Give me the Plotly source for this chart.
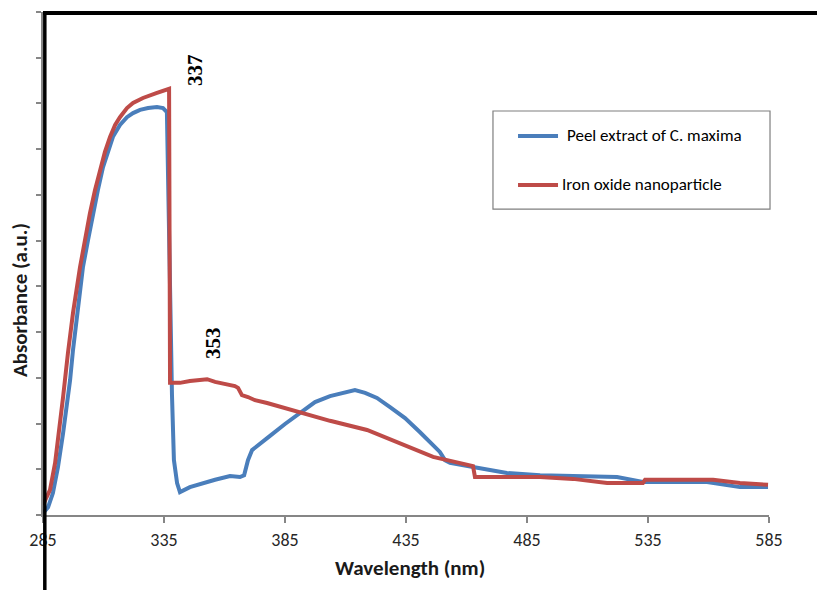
import plotly.graph_objects as go

# UV-Vis absorbance spectra
peel_wavelength = [285.0, 287.1, 289.1, 291.2, 293.3, 294.9, 296.2, 297.4, 299.0, 300.3,
                   301.5, 303.6, 305.7, 307.7, 309.8, 311.9, 313.9, 316.8, 319.7, 322.2,
                   325.1, 328.4, 332.1, 334.6, 336.2, 338.3, 339.1, 340.4, 341.6, 345.7,
                   349.9, 356.1, 362.3, 366.4, 368.1, 369.7, 371.4, 374.7, 378.8, 385.0,
                   391.2, 397.4, 403.6, 409.8, 413.9, 418.1, 423.0, 428.4, 434.6, 440.8,
                   445.7, 449.0, 451.1, 453.2, 462.7, 476.7, 490.4, 511.0, 522.2, 532.9,
                   559.4, 573.0, 584.6]
peel_absorbance = [0.004, 0.017, 0.048, 0.105, 0.179, 0.236, 0.295, 0.361, 0.426, 0.485,
                   0.542, 0.601, 0.660, 0.711, 0.761, 0.798, 0.827, 0.853, 0.870, 0.879,
                   0.886, 0.890, 0.892, 0.890, 0.881, 0.262, 0.120, 0.070, 0.050, 0.061,
                   0.068, 0.077, 0.085, 0.083, 0.087, 0.120, 0.142, 0.157, 0.173, 0.199,
                   0.223, 0.247, 0.260, 0.269, 0.273, 0.267, 0.256, 0.236, 0.212, 0.181,
                   0.157, 0.138, 0.120, 0.114, 0.105, 0.092, 0.087, 0.083, 0.083, 0.072,
                   0.072, 0.061, 0.061]

np_wavelength = [285.0, 287.9, 290.0, 291.2, 293.3, 295.3, 297.4, 300.3, 302.4, 304.4,
                 306.5, 308.6, 310.6, 312.7, 314.8, 316.8, 319.7, 322.2, 326.3, 332.1,
                 336.2, 337.1, 337.5, 341.6, 345.7, 349.9, 352.8, 356.1, 360.2, 364.3,
                 365.6, 367.2, 369.7, 372.6, 377.6, 391.2, 403.6, 418.9, 432.5, 446.2,
                 462.7, 463.5, 490.4, 504.0, 518.1, 532.9, 533.8, 561.9, 573.0, 584.6]
np_absorbance = [0.022, 0.055, 0.114, 0.164, 0.258, 0.354, 0.442, 0.542, 0.608, 0.660,
                 0.711, 0.754, 0.794, 0.827, 0.853, 0.870, 0.890, 0.901, 0.912, 0.923,
                 0.929, 0.932, 0.289, 0.289, 0.293, 0.295, 0.297, 0.291, 0.286, 0.282,
                 0.278, 0.262, 0.258, 0.251, 0.245, 0.225, 0.206, 0.186, 0.157, 0.127,
                 0.107, 0.083, 0.083, 0.079, 0.070, 0.070, 0.077, 0.077, 0.070, 0.066]

series_names = ["Peel extract of C. maxima", "Iron oxide nanoparticle"]
series_colors = ["#4A7EBB", "#BE4B48"]

# peak labels: (text, wavelength position, absorbance position)
peak_labels = [("337", 347.8, 0.973), ("353", 355.2, 0.376)]

x_ticks = [285, 335, 385, 435, 485, 535, 585]

FONT = "Carlito, Calibri, Lato, sans-serif"

fig = go.Figure()
fig.add_trace(go.Scatter(x=peel_wavelength, y=peel_absorbance, mode="lines",
                         name=series_names[0],
                         line=dict(color=series_colors[0], width=4)))
fig.add_trace(go.Scatter(x=np_wavelength, y=np_absorbance, mode="lines",
                         name=series_names[1],
                         line=dict(color=series_colors[1], width=4)))

for text, xv, yv in peak_labels:
    fig.add_annotation(x=xv, y=yv, xref="x", yref="y", text="<b>" + text + "</b>",
                       textangle=-90, showarrow=False,
                       font=dict(family="Liberation Serif", size=21, color="black"))

# axis titles
fig.add_annotation(x=0.505, y=-0.106, xref="paper", yref="paper", text="<b>Wavelength (nm)</b>",
                   showarrow=False, xanchor="center", yanchor="middle",
                   font=dict(family=FONT, size=21, color="#1a1a1a"))
fig.add_annotation(x=-0.032, y=0.427, xref="paper", yref="paper", text="<b>Absorbance (a.u.)</b>",
                   showarrow=False, textangle=-90, xanchor="center", yanchor="middle",
                   font=dict(family=FONT, size=21, color="#1a1a1a"))

# legend box with line samples
fig.add_shape(type="rect", xref="paper", yref="paper", x0=0.6198, x1=1.0014, y0=0.6083, y1=0.8032,
              line=dict(color="#7f7f7f", width=1.2), fillcolor="white", layer="above")
legend_rows = [0.7535, 0.6561]
legend_text_x = [0.7190, 0.7125]
for name, color, yrow, xt in zip(series_names, series_colors, legend_rows, legend_text_x):
    fig.add_shape(type="line", xref="paper", yref="paper", x0=0.6543, x1=0.7094, y0=yrow, y1=yrow,
                  line=dict(color=color, width=4), layer="above")
    fig.add_annotation(x=xt, y=yrow, xref="paper", yref="paper", text=name, showarrow=False,
                       xanchor="left", yanchor="middle",
                       font=dict(family=FONT, size=17, color="black"))

# black frame lines
fig.add_shape(type="line", xref="paper", yref="paper", x0=0.0, x1=1.07, y0=0.998, y1=0.998,
              line=dict(color="black", width=4), layer="above")
fig.add_shape(type="line", xref="paper", yref="paper", x0=0.0025, x1=0.0025, y0=1.0015, y1=-0.16,
              line=dict(color="black", width=3.5), layer="above")

fig.update_layout(
    width=817, height=590,
    margin=dict(l=43, r=48, t=12, b=75),
    paper_bgcolor="white", plot_bgcolor="white",
    font=dict(family=FONT, color="#262626"),
    showlegend=False,
    xaxis=dict(range=[285, 585], tickvals=x_ticks, ticks="outside", ticklen=6,
               tickcolor="#868686", tickwidth=1.5, showline=True, linecolor="#868686",
               linewidth=1.5, showgrid=False, zeroline=False, ticklabelstandoff=2,
               tickfont=dict(family=FONT, size=18, color="#262626")),
    yaxis=dict(range=[0, 1.1], dtick=0.1, ticks="outside", ticklen=5,
               tickcolor="#868686", tickwidth=1.5, showline=True, linecolor="#868686",
               linewidth=1.5, showgrid=False, zeroline=False, showticklabels=False),
)

fig.write_html("out.html")
